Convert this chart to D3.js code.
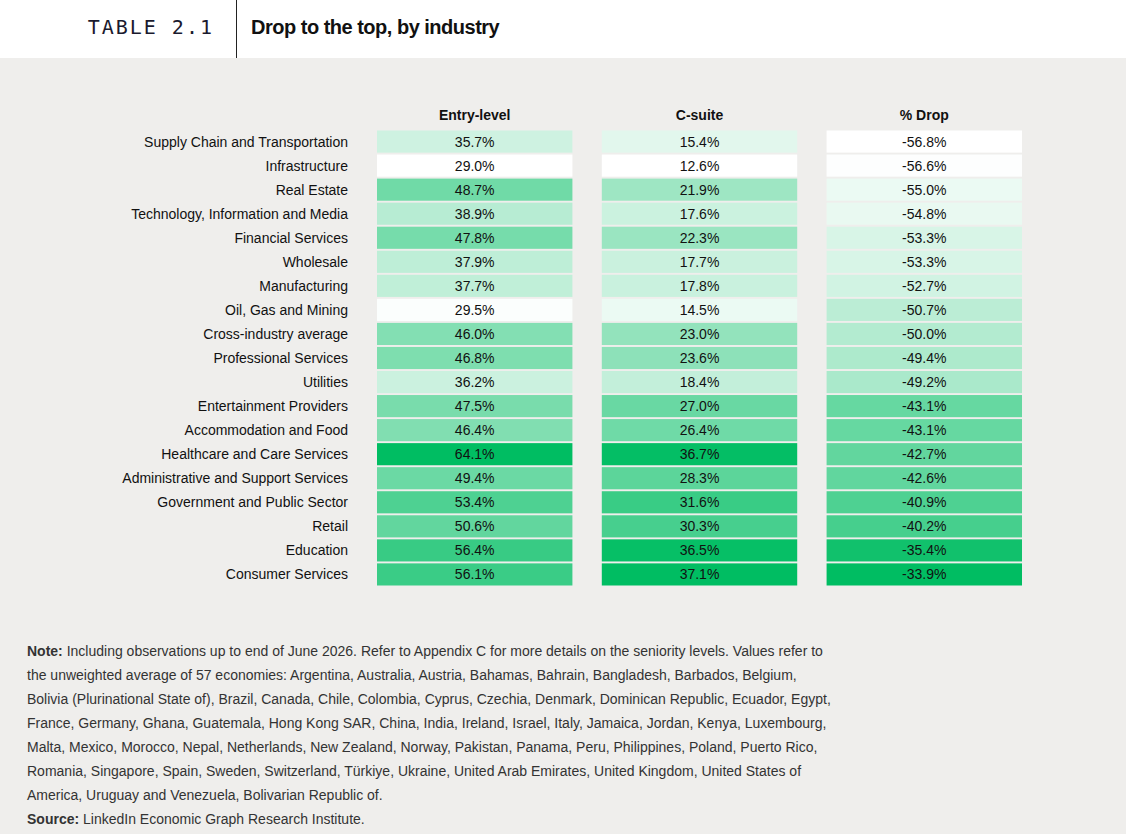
<!DOCTYPE html><html><head><meta charset="utf-8"><script src="https://cdn.jsdelivr.net/npm/d3@7"></script>
<style>body{margin:0;background:#fff;font-family:"Liberation Sans",Arial,sans-serif}</style></head><body><svg id="c" width="1126" height="834"></svg>
<script>
const industries=["Supply Chain and Transportation","Infrastructure","Real Estate","Technology, Information and Media","Financial Services","Wholesale","Manufacturing","Oil, Gas and Mining","Cross-industry average","Professional Services","Utilities","Entertainment Providers","Accommodation and Food","Healthcare and Care Services","Administrative and Support Services","Government and Public Sector","Retail","Education","Consumer Services"];
const columns=["Entry-level","C-suite","% Drop"];
const entry=[35.7,29.0,48.7,38.9,47.8,37.9,37.7,29.5,46.0,46.8,36.2,47.5,46.4,64.1,49.4,53.4,50.6,56.4,56.1];
const csuite=[15.4,12.6,21.9,17.6,22.3,17.7,17.8,14.5,23.0,23.6,18.4,27.0,26.4,36.7,28.3,31.6,30.3,36.5,37.1];
const drop=[-56.8,-56.6,-55.0,-54.8,-53.3,-53.3,-52.7,-50.7,-50.0,-49.4,-49.2,-43.1,-43.1,-42.7,-42.6,-40.9,-40.2,-35.4,-33.9];
const noteLines=["Including observations up to end of June 2026. Refer to Appendix C for more details on the seniority levels. Values refer to","the unweighted average of 57 economies: Argentina, Australia, Austria, Bahamas, Bahrain, Bangladesh, Barbados, Belgium,","Bolivia (Plurinational State of), Brazil, Canada, Chile, Colombia, Cyprus, Czechia, Denmark, Dominican Republic, Ecuador, Egypt,","France, Germany, Ghana, Guatemala, Hong Kong SAR, China, India, Ireland, Israel, Italy, Jamaica, Jordan, Kenya, Luxembourg,","Malta, Mexico, Morocco, Nepal, Netherlands, New Zealand, Norway, Pakistan, Panama, Peru, Philippines, Poland, Puerto Rico,","Romania, Singapore, Spain, Sweden, Switzerland, Türkiye, Ukraine, United Arab Emirates, United Kingdom, United States of","America, Uruguay and Venezuela, Bolivarian Republic of."];
const svg=d3.select("#c");
svg.append("rect").attr("x",0).attr("y",58).attr("width",1126).attr("height",776).attr("fill","#efeeec");
svg.append("line").attr("x1",236.5).attr("x2",236.5).attr("y1",0).attr("y2",58).attr("stroke","#222");
svg.append("text").attr("x",214).attr("y",34).attr("text-anchor","end").attr("font-family","DejaVu Sans Mono, monospace").attr("font-size",20).attr("letter-spacing",2).attr("fill","#1a1a2e").text("TABLE 2.1");
svg.append("text").attr("x",251).attr("y",34).attr("font-size",20).attr("font-weight","bold").attr("letter-spacing",-0.5).attr("fill","#111").text("Drop to the top, by industry");
const y=d3.scaleBand().domain(industries).range([130.5,585.5]).paddingInner(0.08);
const x=d3.scaleBand().domain(columns).range([377,1022]).paddingInner(0.1307);
const series=[entry,csuite,drop];
series.forEach((vals,ci)=>{
  const col=d3.scaleLinear().domain(d3.extent(vals)).range(["#ffffff","#00bd62"]);
  const g=svg.append("g");
  g.append("text").attr("x",x(columns[ci])+x.bandwidth()/2).attr("y",120).attr("text-anchor","middle").attr("font-size",14).attr("font-weight","bold").attr("fill","#111").text(columns[ci]);
  industries.forEach((ind,i)=>{
    g.append("rect").attr("x",x(columns[ci])).attr("y",y(ind)).attr("width",x.bandwidth()).attr("height",y.bandwidth()).attr("fill",col(vals[i]));
    g.append("text").attr("x",x(columns[ci])+x.bandwidth()/2).attr("y",y(ind)+y.bandwidth()/2+5).attr("text-anchor","middle").attr("font-size",14).attr("fill","#111").text(vals[i].toFixed(1)+"%");
  });
});
industries.forEach(ind=>svg.append("text").attr("x",348).attr("y",y(ind)+y.bandwidth()/2+5).attr("text-anchor","end").attr("font-size",14).attr("fill","#111").text(ind));
const nt=svg.append("g").attr("font-size",14).attr("fill","#333");
noteLines.forEach((l,i)=>{
  const t=nt.append("text").attr("x",27).attr("y",656+i*24);
  if(i===0){t.append("tspan").attr("font-weight","bold").text("Note: ");}
  t.append("tspan").text(l);
});
const s=nt.append("text").attr("x",27).attr("y",824);
s.append("tspan").attr("font-weight","bold").text("Source: ");
s.append("tspan").text("LinkedIn Economic Graph Research Institute.");
</script></body></html>
